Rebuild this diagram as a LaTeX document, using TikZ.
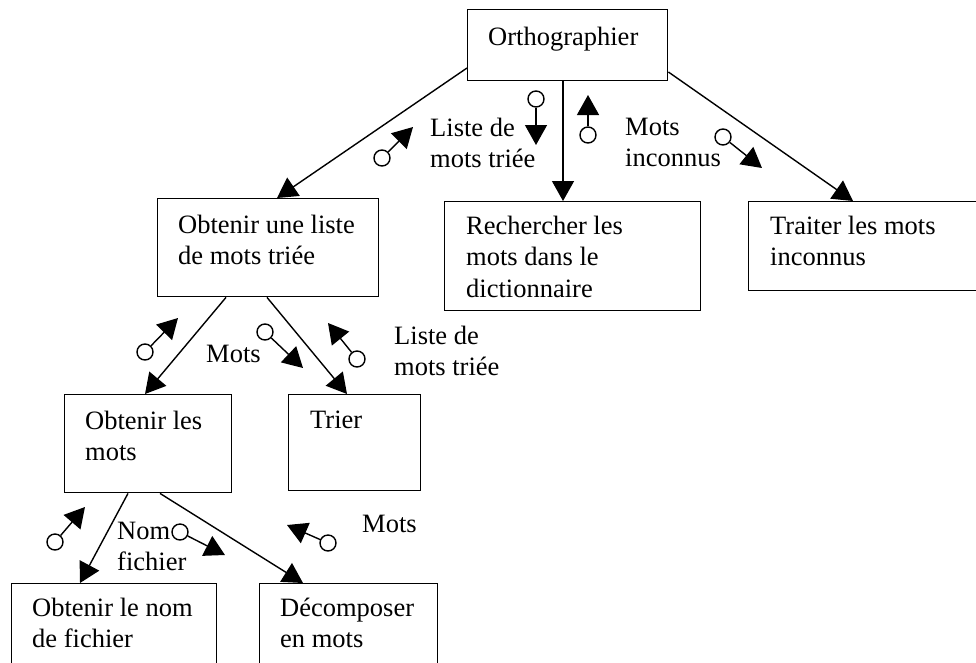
\documentclass[tikz,border=0pt]{standalone}
\usepackage{fontspec}
\setmainfont{Liberation Serif}
\usetikzlibrary{arrows.meta,calc}
\begin{document}
\begin{tikzpicture}[x=1pt,y=-1pt,
  box/.style={draw, line width=1.4pt, rectangle, inner sep=0pt, anchor=north west},
  lbl/.style={anchor=north west, inner sep=0pt, align=left, font=\fontsize{26.5pt}{31.5pt}\selectfont},
  flow/.style={line width=1.4pt, -{Triangle[length=20pt,width=22pt]}},
  dot/.style={circle, draw, line width=1.4pt, minimum size=16pt, inner sep=0pt},
]
\useasboundingbox (0,0) rectangle (976,662);
\clip (0,0) rectangle (976,662);

% process boxes
\node[box, minimum width=200pt, minimum height=71pt] (ortho) at (467,9) {};
\node[box, minimum width=221pt, minimum height=98pt] (liste) at (157,198) {};
\node[box, minimum width=256pt, minimum height=109pt] (rech) at (444,201) {};
\node[box, minimum width=260pt, minimum height=89pt] (trait) at (748,201) {};
\node[box, minimum width=167pt, minimum height=98pt] (omots) at (64,394) {};
\node[box, minimum width=132pt, minimum height=96pt] (trier) at (288,394) {};
\node[box, minimum width=205pt, minimum height=100pt] (onom) at (11,583) {};
\node[box, minimum width=178pt, minimum height=100pt] (decomp) at (259,583) {};

% box titles
\node[lbl] (orthoT) at ($(ortho.north west)+(21,17.5)$) {Orthographier};
\node[lbl] (listeT) at ($(liste.north west)+(21,16.5)$) {Obtenir une liste\\de mots triée};
\node[lbl] (rechT) at ($(rech.north west)+(22,14.5)$) {Rechercher les\\mots dans le\\dictionnaire};
\node[lbl] (traitT) at ($(trait.north west)+(22,14.5)$) {Traiter les mots\\inconnus};
\node[lbl] (omotsT) at ($(omots.north west)+(21,16.5)$) {Obtenir les\\mots};
\node[lbl] (trierT) at ($(trier.north west)+(22,16.5)$) {Trier};
\node[lbl] (onomT) at ($(onom.north west)+(21,14.5)$) {Obtenir le nom\\de fichier};
\node[lbl] (decompT) at ($(decomp.north west)+(21,14.5)$) {Décomposer\\en mots};

% call hierarchy
\draw[flow] ($(ortho.north west)+(0,59)$) -- ($(liste.north west)+(120,0)$);
\draw[flow] ($(ortho.south west)+(96,0)$) -- ($(rech.north west)+(119,0)$);
\draw[flow] ($(ortho.north east)+(0,63)$) -- ($(trait.north west)+(105,0)$);
\draw[flow] ($(liste.south west)+(69,0)$) -- ($(omots.north west)+(81,0)$);
\draw[flow] ($(liste.south west)+(110,0)$) -- ($(trier.north west)+(59,0)$);
\draw[flow] ($(omots.south west)+(64,0)$) -- ($(onom.north west)+(69,0)$);
\draw[flow] ($(omots.south west)+(96,0)$) -- ($(decomp.north west)+(44,0)$);

% data couples
\node[dot] (c1) at (382,158) {};  \coordinate (t1) at (413,127);
\node[dot] (c2) at (536,99) {};   \coordinate (t2) at (536,145);
\node[dot] (c3) at (588,135) {};  \coordinate (t3) at (588,95);
\node[dot] (c4) at (723,137) {};  \coordinate (t4) at (762,168);
\node[dot] (c5) at (145,352) {};  \coordinate (t5) at (178,318);
\node[dot] (c6) at (265,332) {};  \coordinate (t6) at (303,368);
\node[dot] (c7) at (357,359) {};  \coordinate (t7) at (328,323);
\node[dot] (c8) at (55,542) {};   \coordinate (t8) at (85,507);
\node[dot] (c9) at (180,532) {};  \coordinate (t9) at (225,555);
\node[dot] (c10) at (328,543) {}; \coordinate (t10) at (287,525);
\foreach \i in {1,...,10} \draw[flow] (c\i) -- (t\i);

% data labels
\node[lbl] (d1) at (430,117.5) {Liste de\\mots triée};
\node[lbl] (d2) at (625,117.5) {Mots\\inconnus};
\node[lbl] (d3) at (206,344.5) {Mots};
\node[lbl] (d4) at (394,325.5) {Liste de\\mots triée};
\node[lbl] (d5) at (117,521.5) {Nom\\fichier};
\node[lbl] (d6) at (362,514.5) {Mots};
\end{tikzpicture}
\end{document}
